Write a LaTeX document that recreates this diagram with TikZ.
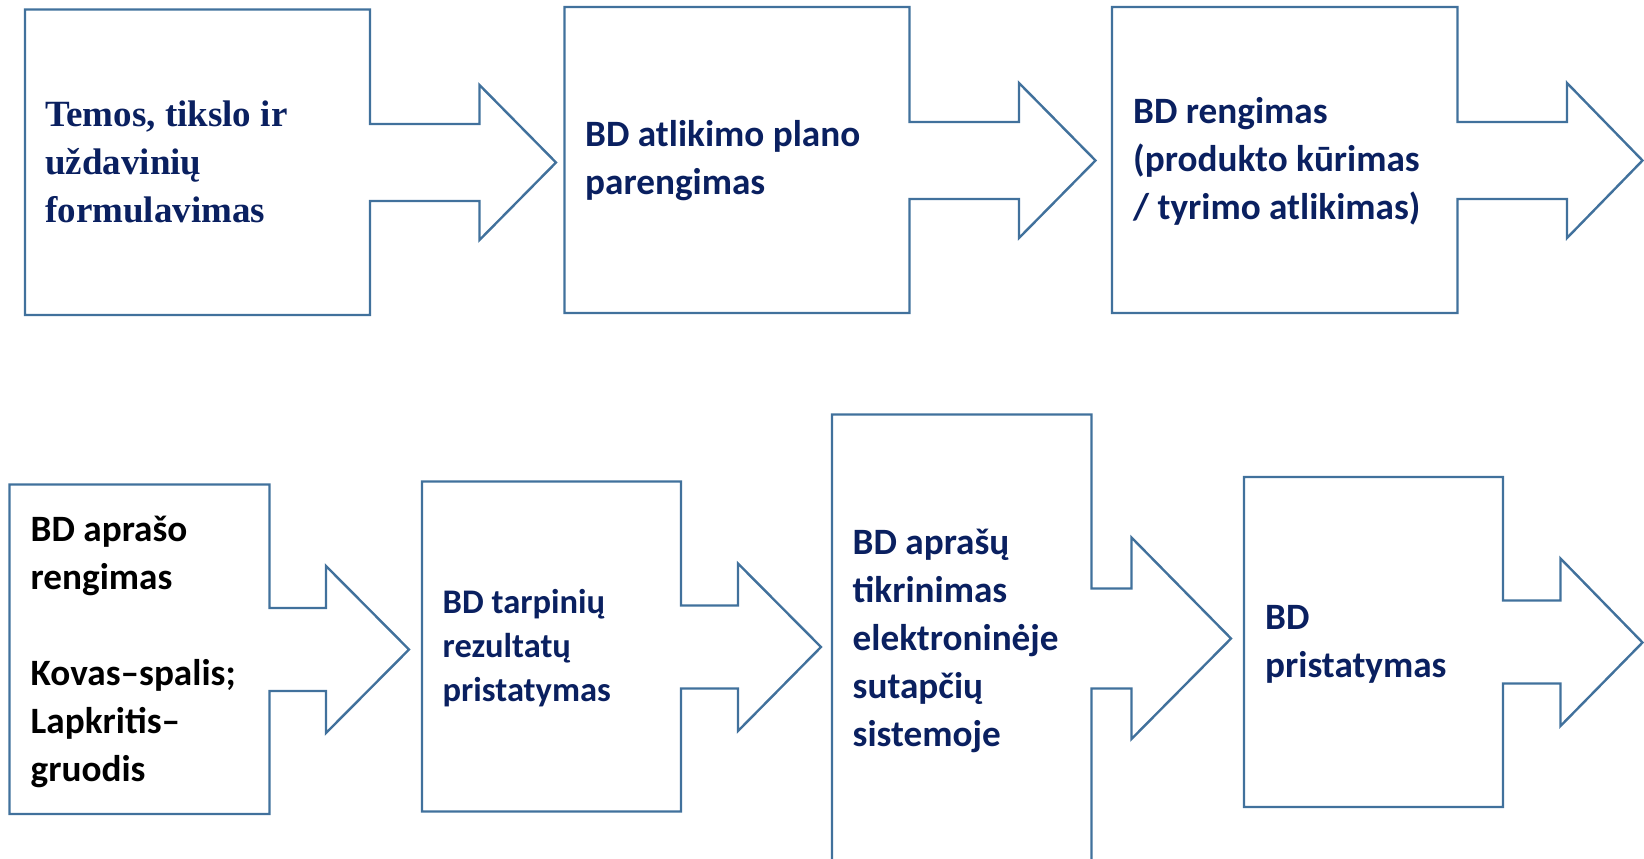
\documentclass[tikz,border=0pt]{standalone}
\usepackage{fontspec}
\setmainfont{Carlito}
\newfontfamily\serifbold{Liberation Serif}
\definecolor{edge}{HTML}{41719C}
\definecolor{navy}{HTML}{0A2060}
\newcommand\mlines[1]{\begin{tabular}[t]{@{}l@{}}#1\end{tabular}}
\tikzset{
  shapeline/.style={draw=edge, line width=2.4pt, line join=miter},
  lbl/.style={anchor=base west, inner sep=0pt, font=\bfseries\fontsize{37.2}{48}\selectfont, text=navy},
  lblsmall/.style={lbl, font=\bfseries\fontsize{34.5}{44}\selectfont},
}
\begin{document}
\begin{tikzpicture}[x=1pt,y=-1pt]
\useasboundingbox (0,0) rectangle (1644,859);
\begin{scope}
\clip (0,0) rectangle (1644,859);
% shape 1
\draw[shapeline] (25,9.5) -- (370,9.5) -- (370,124) -- (479.5,124) -- (479.5,85) -- (556,162.5) -- (479.5,240) -- (479.5,201) -- (370,201) -- (370,315) -- (25,315) -- cycle;
% shape 2
\draw[shapeline] (564.5,7) -- (909.5,7) -- (909.5,122) -- (1019,122) -- (1019,83) -- (1095.5,160.5) -- (1019,238) -- (1019,199) -- (909.5,199) -- (909.5,313) -- (564.5,313) -- cycle;
% shape 3
\draw[shapeline] (1112,7) -- (1457.5,7) -- (1457.5,122) -- (1567,122) -- (1567,83) -- (1642.5,160.5) -- (1567,238) -- (1567,199) -- (1457.5,199) -- (1457.5,313) -- (1112,313) -- cycle;
% shape 4
\draw[shapeline] (9.5,484.5) -- (269.5,484.5) -- (269.5,608) -- (326,608) -- (326,566) -- (409,649.5) -- (326,733) -- (326,691) -- (269.5,691) -- (269.5,814) -- (9.5,814) -- cycle;
% shape 5
\draw[shapeline] (422,481.5) -- (681,481.5) -- (681,605.5) -- (738,605.5) -- (738,563.5) -- (821,647) -- (738,731) -- (738,688.5) -- (681,688.5) -- (681,811.5) -- (422,811.5) -- cycle;
% shape 6 (runs off the bottom)
\draw[shapeline] (832,875) -- (832,414.5) -- (1091.5,414.5) -- (1091.5,588.5) -- (1131.5,588.5) -- (1131.5,537.5) -- (1231,638.5) -- (1131.5,739) -- (1131.5,688.5) -- (1091.5,688.5) -- (1091.5,875);
% shape 7
\draw[shapeline] (1244,477) -- (1503,477) -- (1503,600.5) -- (1560.5,600.5) -- (1560.5,558.5) -- (1642.5,642.5) -- (1560.5,726) -- (1560.5,683.5) -- (1503,683.5) -- (1503,807) -- (1244,807) -- cycle;
\end{scope}
% labels
\node[lbl, font=\serifbold\bfseries\fontsize{37}{48}\selectfont] (t1) at (45,126.7) {\mlines{Temos, tikslo ir\\uždavinių\\formulavimas}};
\node[lbl] (t2) at (585,146.7) {\mlines{BD atlikimo plano\\parengimas}};
\node[lbl] (t3) at (1133,123.3) {\mlines{BD rengimas\\(produkto kūrimas\\/ tyrimo atlikimas)}};
\node[lbl, text=black] (t4) at (30.5,541.7) {\mlines{BD aprašo\\rengimas\\ \\Kovas–spalis;\\Lapkritis–\\gruodis}};
\node[lblsmall] (t5) at (442.5,613.3) {\mlines{BD tarpinių\\rezultatų\\pristatymas}};
\node[lbl] (t6) at (852.5,554) {\mlines{BD aprašų\\tikrinimas\\elektroninėje\\sutapčių\\sistemoje}};
\node[lbl] (t7) at (1265,629.3) {\mlines{BD\\pristatymas}};
\end{tikzpicture}
\end{document}
